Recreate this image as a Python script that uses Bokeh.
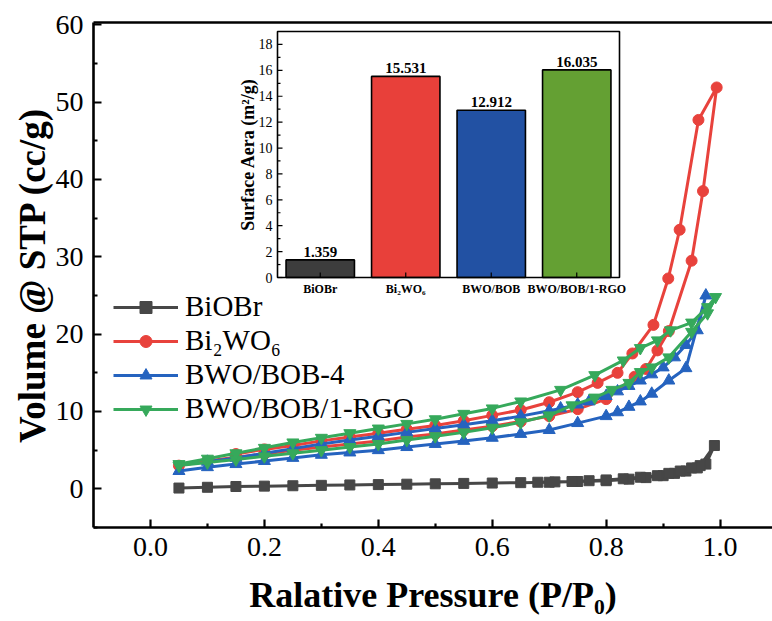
from math import pi
from bokeh.plotting import figure
from bokeh.models import Range1d, LinearAxis, FixedTicker, Legend, LegendItem
from bokeh.core.properties import value
from bokeh.embed import file_html
from bokeh.resources import INLINE

# ---------------- data ----------------
series_names = ["BiOBr", "Bi\u2082WO\u2086", "BWO/BOB-4", "BWO/BOB/1-RGO"]

biobr_ads_x = [0.05, 0.1, 0.15, 0.2, 0.25, 0.3, 0.35, 0.4, 0.45, 0.5, 0.55, 0.6, 0.65, 0.7, 0.75, 0.8, 0.84, 0.87, 0.9, 0.92, 0.94, 0.96, 0.975, 0.99]
biobr_ads_y = [0.1, 0.2, 0.3, 0.35, 0.4, 0.45, 0.5, 0.55, 0.6, 0.65, 0.7, 0.75, 0.8, 0.85, 0.95, 1.05, 1.25, 1.45, 1.7, 2.0, 2.3, 2.7, 3.2, 5.6]
biobr_des_x = [0.965, 0.95, 0.93, 0.91, 0.89, 0.86, 0.83, 0.8, 0.77, 0.74, 0.71, 0.68]
biobr_des_y = [3.0, 2.7, 2.3, 2.0, 1.7, 1.5, 1.3, 1.15, 1.05, 0.95, 0.9, 0.85]

bwo_ads_x = [0.05, 0.1, 0.15, 0.2, 0.25, 0.3, 0.35, 0.4, 0.45, 0.5, 0.55, 0.6, 0.65, 0.7, 0.75, 0.8, 0.85, 0.87, 0.89, 0.91, 0.95, 0.97, 0.994]
bwo_ads_y = [3.0, 3.6, 4.1, 4.5, 5.0, 5.4, 5.8, 6.2, 6.7, 7.1, 7.6, 8.1, 8.7, 9.4, 10.3, 11.6, 14.5, 15.5, 17.9, 20.4, 29.5, 38.5, 51.9]
bwo_des_x = [0.962, 0.929, 0.909, 0.883, 0.846, 0.82, 0.785, 0.75, 0.7, 0.65, 0.6, 0.55, 0.5, 0.45, 0.4, 0.35, 0.3, 0.25, 0.2, 0.15]
bwo_des_y = [47.7, 33.5, 27.2, 21.2, 17.5, 15.0, 13.7, 12.5, 11.2, 10.2, 9.5, 8.8, 8.2, 7.7, 7.2, 6.7, 6.2, 5.6, 5.1, 4.5]

bob4_ads_x = [0.05, 0.1, 0.15, 0.2, 0.25, 0.3, 0.35, 0.4, 0.45, 0.5, 0.55, 0.6, 0.65, 0.7, 0.75, 0.8, 0.82, 0.84, 0.86, 0.88, 0.91, 0.94, 0.975]
bob4_ads_y = [2.3, 2.8, 3.2, 3.6, 4.0, 4.4, 4.7, 5.0, 5.4, 5.8, 6.2, 6.6, 7.1, 7.6, 8.5, 9.4, 9.9, 10.6, 11.3, 12.3, 14.0, 15.6, 25.0]
bob4_des_x = [0.96, 0.94, 0.92, 0.9, 0.88, 0.86, 0.84, 0.82, 0.8, 0.77, 0.75, 0.72, 0.7, 0.65, 0.6, 0.55, 0.5, 0.45, 0.4, 0.35, 0.3, 0.25, 0.2, 0.15, 0.1]
bob4_des_y = [20.5, 18.6, 17.0, 15.7, 14.8, 14.0, 13.3, 12.6, 12.0, 11.3, 10.9, 10.4, 10.1, 9.4, 8.8, 8.3, 7.8, 7.3, 6.8, 6.3, 5.8, 5.2, 4.6, 4.0, 3.5]

rgo_ads_x = [0.05, 0.1, 0.15, 0.2, 0.25, 0.3, 0.35, 0.4, 0.45, 0.5, 0.55, 0.6, 0.65, 0.7, 0.74, 0.78, 0.81, 0.84, 0.86, 0.88, 0.91, 0.95, 0.978, 0.992]
rgo_ads_y = [3.0, 3.4, 3.8, 4.2, 4.6, 5.0, 5.4, 5.8, 6.3, 6.8, 7.3, 7.9, 8.6, 9.5, 10.8, 11.8, 12.8, 13.7, 15.1, 15.7, 17.0, 20.3, 22.7, 24.8]
rgo_des_x = [0.978, 0.95, 0.913, 0.89, 0.86, 0.83, 0.78, 0.72, 0.65, 0.6, 0.55, 0.5, 0.45, 0.4, 0.35, 0.3, 0.25, 0.2, 0.15, 0.1, 0.05]
rgo_des_y = [23.5, 21.5, 20.5, 19.2, 18.2, 16.6, 14.7, 12.8, 11.3, 10.4, 9.7, 9.0, 8.4, 7.8, 7.2, 6.6, 6.0, 5.3, 4.6, 3.9, 3.2]

x_ticks = [0.0, 0.2, 0.4, 0.6, 0.8, 1.0]
x_minor = [0.1, 0.3, 0.5, 0.7, 0.9]
y_ticks = [0, 10, 20, 30, 40, 50, 60]
y_minor = [-5, 5, 15, 25, 35, 45, 55]
x_title = "Ralative Pressure (P/P\u2080)"
y_title = "Volume @ STP (cc/g)"

inset_categories = ["BiOBr", "Bi\u2082WO\u2086", "BWO/BOB", "BWO/BOB/1-RGO"]
inset_area = [1.359, 15.531, 12.912, 16.035]
inset_area_text = ["1.359", "15.531", "12.912", "16.035"]
inset_yticks = [0, 2, 4, 6, 8, 10, 12, 14, 16, 18]
inset_yminor = [1, 3, 5, 7, 9, 11, 13, 15, 17]
inset_title = "Surface Aera (m\u00b2/g)"
INSET_YMAX = 19

# ---------------- styles / layout ----------------
FONT = "Liberation Serif"
line_colors = ["#474747", "#e8423c", "#2563bf", "#36a95b"]
markers = ["square", "circle", "triangle", "inverted_triangle"]
marker_sizes = [10, 11, 12, 12]
bar_colors = ["#3d3d3d", "#e8403a", "#2251a3", "#64a033"]

W, H = 772, 621
FL, FR, FT, FB = 93, 772, 22, 527
IL, IR, IT, IB = 277, 619, 31, 277

p = figure(width=W, height=H, x_range=Range1d(-0.1, 1.092), y_range=Range1d(-5, 60.3),
           output_backend="svg", toolbar_location=None,
           min_border_left=FL, min_border_right=W - FR, min_border_top=FT, min_border_bottom=H - FB)
p.outline_line_color = None
p.grid.visible = False
p.background_fill_color = "white"

for ax in (p.xaxis[0], p.yaxis[0]):
    ax.axis_line_width = 2.6
    ax.axis_line_color = "black"
    ax.major_tick_in = 8
    ax.major_tick_out = 0
    ax.minor_tick_in = 4
    ax.minor_tick_out = 0
    ax.major_tick_line_width = 2.2
    ax.minor_tick_line_width = 2.2
    ax.major_label_text_font = FONT
    ax.major_label_text_font_size = "28px"
    ax.major_label_text_color = "black"
    ax.major_label_standoff = 10
    ax.axis_label_text_font = FONT
    ax.axis_label_text_font_style = "bold"
    ax.axis_label_text_color = "black"

p.xaxis.ticker = FixedTicker(ticks=x_ticks, minor_ticks=x_minor)
p.yaxis.ticker = FixedTicker(ticks=y_ticks, minor_ticks=y_minor)
p.xaxis.major_label_overrides = {t: f"{t:.1f}" for t in x_ticks}
p.xaxis.axis_label = x_title
p.yaxis.axis_label = y_title
p.xaxis.axis_label_text_font_size = "36px"
p.yaxis.axis_label_text_font_size = "37px"
p.xaxis.axis_label_standoff = 16
p.yaxis.axis_label_standoff = 0

top = LinearAxis(ticker=FixedTicker(ticks=[]), axis_line_width=2.6, major_tick_in=0, major_tick_out=0,
                 minor_tick_in=0, minor_tick_out=0, major_label_text_font_size="0px")
p.add_layout(top, "above")

# ---------------- curves ----------------
series = [
    (biobr_ads_x + biobr_des_x, biobr_ads_y + biobr_des_y),
    (bwo_ads_x + bwo_des_x, bwo_ads_y + bwo_des_y),
    (bob4_ads_x + bob4_des_x, bob4_ads_y + bob4_des_y),
    (rgo_ads_x + rgo_des_x, rgo_ads_y + rgo_des_y),
]
items = []
for (xs, ys), name, c, m, s in zip(series, series_names, line_colors, markers, marker_sizes):
    lr = p.line(xs, ys, line_color=c, line_width=3)
    sr = p.scatter(xs, ys, marker=m, size=s, fill_color=c, line_color=c)
    items.append(LegendItem(label=name, renderers=[lr, sr]))

legend = Legend(items=items, location=(20, 102), padding=0, margin=0, border_line_color=None,
                background_fill_alpha=0, glyph_width=65, glyph_height=30, spacing=1,
                label_standoff=7, label_text_font=FONT, label_text_font_size="29px",
                label_text_color="black", label_height=33)
p.add_layout(legend)

# ---------------- inset ----------------
n = len(inset_categories)
sxi = (IR - IL) / n
syi = (IB - IT) / INSET_YMAX
p.extra_x_ranges = {"ix": Range1d(-(IL - FL) / sxi, n + (FR - IR) / sxi)}
p.extra_y_ranges = {"iy": Range1d(-(FB - IB) / syi, INSET_YMAX + (IT - FT) / syi)}
R = dict(x_range_name="ix", y_range_name="iy")
cx = [i + 0.5 for i in range(n)]

p.quad(left=[0], right=[n], bottom=[0], top=[INSET_YMAX], fill_color="white", line_color=None, **R)
p.vbar(x=cx, top=inset_area, bottom=0, width=0.8, fill_color=bar_colors, line_color="black", line_width=1.6, **R)
p.quad(left=[0], right=[n], bottom=[0], top=[INSET_YMAX], fill_color=None, line_color="black", line_width=1.6, **R)

# inset ticks
p.segment(x0=[0] * len(inset_yticks), x1=[5 / sxi] * len(inset_yticks), y0=inset_yticks, y1=inset_yticks,
          line_color="black", line_width=1.2, **R)
p.segment(x0=[0] * len(inset_yminor), x1=[3 / sxi] * len(inset_yminor), y0=inset_yminor, y1=inset_yminor,
          line_color="black", line_width=1.2, **R)
p.segment(x0=cx, x1=cx, y0=[0] * n, y1=[5 / syi] * n, line_color="black", line_width=1.2, **R)

tf = value(FONT)
p.text(x=[0] * len(inset_yticks), y=inset_yticks, text=[str(t) for t in inset_yticks], x_offset=-5,
       text_align="right", text_baseline="middle", text_font=tf, text_font_size="14px", text_color="black", **R)
p.text(x=cx, y=[0] * n, text=inset_categories, y_offset=4, text_align="center", text_baseline="top",
       text_font=tf, text_font_style="bold", text_font_size="12px", text_color="black", **R)
p.text(x=cx, y=inset_area, text=inset_area_text, y_offset=-3, text_align="center", text_baseline="bottom",
       text_font=tf, text_font_style="bold", text_font_size="15px", text_color="black", **R)
p.text(x=[0], y=[INSET_YMAX / 2], text=[inset_title], x_offset=-30, angle=pi / 2,
       text_align="center", text_baseline="middle", text_font=tf, text_font_style="bold",
       text_font_size="18px", text_color="black", **R)

open("out.html", "w").write(file_html(p, INLINE))
